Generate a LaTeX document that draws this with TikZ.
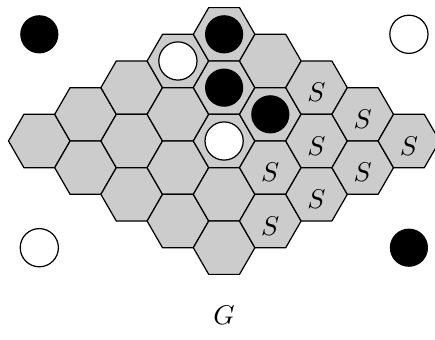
\documentclass[tikz,border=0pt]{standalone}
\usepackage{amsmath,amssymb}
\usepackage{tikz}
\definecolor{hexgray}{gray}{0.8}

\begin{document}
\begin{tikzpicture}[line cap=round,line join=round,x=0.4cm,y=0.4cm,line width=0.45pt,
        hexcell/.style={draw=black,fill=hexgray},
        blackstone/.style={fill=black},
        whitestone/.style={draw=black,fill=white},
        slabel/.style={yshift=-1.8pt}]
        \useasboundingbox (-1.276,-6.429) rectangle (12.847,4.578);
        % board cells h<a><b>
        \foreach \a in {0,...,4}
            \foreach \b in {0,...,4} {
                \coordinate (h\a\b) at ({1.5*(\a+\b)},{0.866*(\b-\a)});
                \draw [hexcell] (h\a\b) +(0:1) -- +(60:1) -- +(120:1) -- +(180:1) -- +(240:1) -- +(300:1) -- cycle;
            }
        % stones on the board
        \fill [blackstone] (h04) circle (0.62);
        \fill [blackstone] (h13) circle (0.62);
        \fill [blackstone] (h23) circle (0.62);
        \draw [whitestone] (h03) circle (0.62);
        \draw [whitestone] (h22) circle (0.62);
        % corner stones
        \coordinate (cornerNW) at (0,3.464);
        \coordinate (cornerNE) at (12,3.464);
        \coordinate (cornerSW) at (0,-3.464);
        \coordinate (cornerSE) at (12,-3.464);
        \fill [blackstone] (cornerNW) circle (0.62);
        \draw [whitestone] (cornerNE) circle (0.62);
        \draw [whitestone] (cornerSW) circle (0.62);
        \fill [blackstone] (cornerSE) circle (0.62);
        % labels
        \node [slabel] (s24) at (h24) {$S$};
        \node [slabel] (s34) at (h34) {$S$};
        \node [slabel] (s44) at (h44) {$S$};
        \node [slabel] (s33) at (h33) {$S$};
        \node [slabel] (s43) at (h43) {$S$};
        \node [slabel] (s32) at (h32) {$S$};
        \node [slabel] (s42) at (h42) {$S$};
        \node [slabel] (s41) at (h41) {$S$};
        \node (gname) at (6,-5.65) {$G$};
\end{tikzpicture}
\end{document}
